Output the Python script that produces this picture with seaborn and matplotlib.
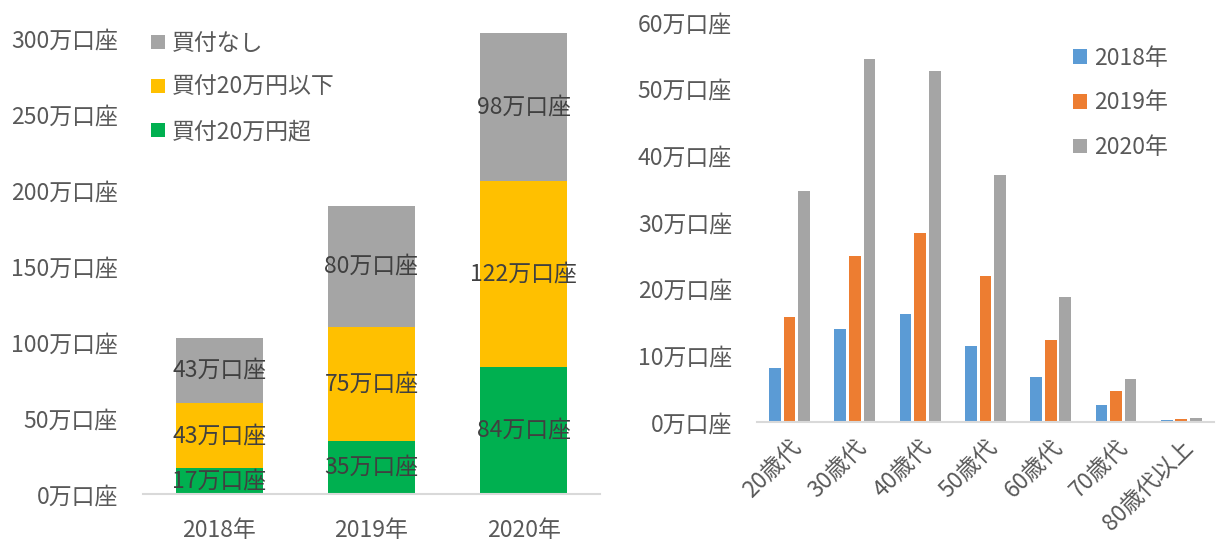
import matplotlib
matplotlib.use("Agg")
import matplotlib.pyplot as plt
import seaborn as sns
import pandas as pd
from matplotlib.ticker import FuncFormatter, MultipleLocator

sns.set_theme(style="white")
plt.rcParams['font.family'] = ['Noto Sans CJK JP', 'DejaVu Sans']

# ---- left chart data ----
years = ["2018年", "2019年", "2020年"]
over20 = [17, 35, 84]        # 買付20万円超
under20 = [43, 75, 122]      # 買付20万円以下
none_buy = [43, 80, 98]      # 買付なし
series_names = ["買付20万円超", "買付20万円以下", "買付なし"]
left_colors = ["#00B050", "#FFC000", "#A5A5A5"]

# ---- right chart data ----
ages = ["20歳代", "30歳代", "40歳代", "50歳代", "60歳代", "70歳代", "80歳代以上"]
y2018 = [8.1, 14.0, 16.2, 11.4, 6.7, 2.6, 0.3]
y2019 = [15.8, 24.9, 28.3, 21.9, 12.3, 4.7, 0.4]
y2020 = [34.6, 54.5, 52.7, 37.1, 18.7, 6.5, 0.65]
hue_years = ["2018年", "2019年", "2020年"]
right_colors = ["#5B9BD5", "#ED7D31", "#A5A5A5"]

TXT = "#595959"
fs = 16.5

fig = plt.figure(figsize=(12.17, 5.4), dpi=100)
ax1 = fig.add_axes([0.1175, 0.0852, 0.3755, 0.871])
ax2 = fig.add_axes([0.622, 0.2185, 0.3755, 0.7407])

# left stacked bars
df_left = pd.DataFrame({"year": years, series_names[0]: over20,
                        series_names[1]: under20, series_names[2]: none_buy})
bottom = [0, 0, 0]
for name, col in zip(series_names, left_colors):
    vals = df_left[name].tolist()
    sns.barplot(x=df_left["year"], y=vals, bottom=bottom, color=col, width=0.57,
                label=name, ax=ax1, saturation=1, linewidth=0)
    bottom = [b + v for b, v in zip(bottom, vals)]

for cont in ax1.containers:
    vals = cont.datavalues
    ax1.bar_label(cont, labels=[f"{v:.0f}万口座" for v in vals], label_type="center",
                  fontsize=fs, color="#404040")

ax1.set_xlim(-0.5, 2.5)
ax1.set_ylim(0, 310)
ax1.yaxis.set_major_locator(MultipleLocator(50))
ax1.yaxis.set_major_formatter(FuncFormatter(lambda v, p: f"{v:.0f}万口座"))
ax1.set_xlabel("")
ax1.set_ylabel("")
h, l = ax1.get_legend_handles_labels()
ax1.legend(h[::-1], l[::-1], loc="upper left", bbox_to_anchor=(-0.027, 1.026), frameon=False,
           fontsize=fs, labelcolor=TXT, handlelength=0.6, handleheight=0.6,
           handletextpad=0.3, labelspacing=0.92)

# right grouped bars
df_right = pd.DataFrame({
    "age": ages * 3,
    "value": y2018 + y2019 + y2020,
    "year": [hue_years[0]] * len(ages) + [hue_years[1]] * len(ages) + [hue_years[2]] * len(ages),
})
sns.barplot(data=df_right, x="age", y="value", hue="year", palette=right_colors,
            width=0.67, gap=0.2, ax=ax2, saturation=1, linewidth=0)
ax2.set_xlim(-0.5, 6.5)
ax2.set_ylim(0, 60)
ax2.yaxis.set_major_locator(MultipleLocator(10))
ax2.yaxis.set_major_formatter(FuncFormatter(lambda v, p: f"{v:.0f}万口座"))
ax2.set_xlabel("")
ax2.set_ylabel("")
ax2.legend(loc="upper left", bbox_to_anchor=(0.647, 0.99), frameon=False,
           fontsize=fs, labelcolor=TXT, handlelength=0.6, handleheight=0.6,
           handletextpad=0.3, labelspacing=0.95)
for lab in ax2.get_xticklabels():
    lab.set_rotation(45)
    lab.set_ha("right")
    lab.set_rotation_mode("anchor")

for ax in (ax1, ax2):
    for s in ("top", "right", "left"):
        ax.spines[s].set_visible(False)
    ax.spines["bottom"].set_color("#D9D9D9")
    ax.spines["bottom"].set_linewidth(1.5)
    ax.tick_params(axis="both", length=0, labelsize=fs, colors=TXT)
    ax.tick_params(axis="y", pad=18)
    ax.grid(False)
ax1.tick_params(axis="x", pad=18)
ax2.tick_params(axis="x", pad=10)

fig.savefig("out.png", dpi=100)
